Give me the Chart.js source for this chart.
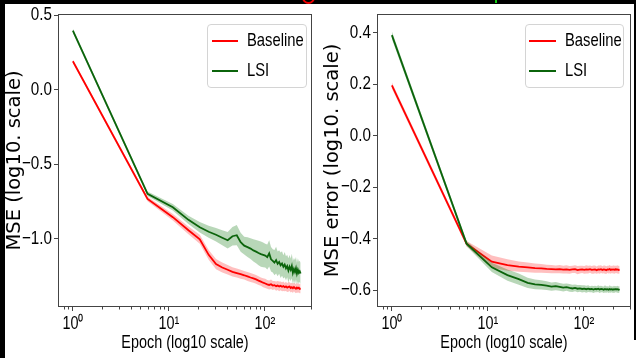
<!DOCTYPE html>
<html>
<head>
<meta charset="utf-8">
<script src="https://cdn.jsdelivr.net/npm/chart.js@4.4.1/dist/chart.umd.min.js"></script>
<style>
    html, body { margin: 0; padding: 0; background: #fff; }
    #page { position: relative; width: 636px; height: 358px; overflow: hidden; background: #fff; }
    .panel { position: absolute; top: 0; width: 318px; height: 358px; }
    .legend {
        position: absolute; box-sizing: border-box; background: rgba(255,255,255,0.85);
        border: 1px solid #d4d4d4; border-radius: 4px;
        font-family: 'Liberation Sans', sans-serif; font-size: 18.5px; color: #000;
    }
    .legend .swatch { position: absolute; height: 2px; }
    .legend .name { position: absolute; line-height: 18px; white-space: nowrap;
        transform: scaleX(0.8); transform-origin: left center; }
    .edge { position: absolute; background: #000; }
</style>
</head>
<body>
<div id="page">
    <div class="panel" style="left:0"><canvas id="lossChart" width="318" height="358"></canvas></div>
    <div class="panel" style="left:318px"><canvas id="errorChart" width="318" height="358"></canvas></div>
    <div class="legend" id="lossLegend" style="left:207px;top:24px;width:100px;height:64px"></div>
    <div class="legend" id="errorLegend" style="left:525px;top:24px;width:99px;height:64px"></div>
    <div class="edge" style="left:0;top:0;width:636px;height:4px"></div>
    <div class="edge" style="left:0;top:0;width:5px;height:358px"></div>
    <div class="edge" style="left:634px;top:0;width:2px;height:340px"></div>
    <div style="position:absolute;left:302px;top:-9px;width:9px;height:9px;border:2px solid #e00;border-radius:50%"></div>
    <div style="position:absolute;left:495px;top:0;width:2px;height:3px;background:#1c1"></div>
</div>
<script>
    // Data
    const epochs = [1, 6, 11, 16, 21, 26, 31, 36, 41, 46, 51, 56, 61, 66, 71, 76, 81, 86, 91, 96,
        101, 106, 111, 116, 121, 126, 131, 136, 141, 146, 151, 156, 161, 166, 171, 176, 181, 186, 191, 196,
        201, 206, 211, 216, 221, 226, 231, 236];

    const seriesLabels = ['Baseline', 'LSI'];

    // left panel: MSE
    const lossBaseline = [0.19, -0.735, -0.857, -0.945, -1.005, -1.11, -1.172, -1.195, -1.21, -1.224,
        -1.232, -1.24, -1.247, -1.255, -1.262, -1.268, -1.275, -1.283, -1.29, -1.297,
        -1.302, -1.308, -1.312, -1.307, -1.316, -1.313, -1.32, -1.316, -1.322, -1.318,
        -1.324, -1.32, -1.327, -1.322, -1.33, -1.325, -1.323, -1.332, -1.327, -1.334,
        -1.326, -1.332, -1.337, -1.329, -1.335, -1.331, -1.338, -1.335];
    const lossBaselineStd = [0.012, 0.015, 0.022, 0.026, 0.03, 0.033, 0.034, 0.033, 0.032, 0.031,
        0.03, 0.03, 0.029, 0.03, 0.031, 0.03, 0.029, 0.03, 0.028, 0.03,
        0.031, 0.029, 0.03, 0.032, 0.03, 0.028, 0.031, 0.03, 0.033, 0.029,
        0.03, 0.032, 0.028, 0.031, 0.03, 0.033, 0.029, 0.031, 0.03, 0.032,
        0.028, 0.031, 0.03, 0.033, 0.029, 0.031, 0.03, 0.032];
    const lossLsi = [0.395, -0.70, -0.79, -0.875, -0.925, -0.955, -0.975, -0.995, -1.012, -0.985,
        -0.978, -1.025, -1.048, -1.058, -1.068, -1.08, -1.088, -1.097, -1.105, -1.11,
        -1.115, -1.125, -1.1, -1.14, -1.15, -1.162, -1.145, -1.17, -1.158, -1.18,
        -1.168, -1.19, -1.175, -1.2, -1.185, -1.215, -1.19, -1.21, -1.185, -1.23,
        -1.205, -1.225, -1.2, -1.235, -1.21, -1.23, -1.22, -1.235];
    const lossLsiStd = [0.015, 0.015, 0.022, 0.028, 0.035, 0.04, 0.045, 0.05, 0.055, 0.062,
        0.068, 0.064, 0.06, 0.066, 0.07, 0.074, 0.078, 0.082, 0.085, 0.083,
        0.08, 0.084, 0.088, 0.082, 0.078, 0.085, 0.09, 0.083, 0.079, 0.086,
        0.082, 0.078, 0.085, 0.08, 0.076, 0.083, 0.079, 0.075, 0.082, 0.078,
        0.074, 0.08, 0.076, 0.072, 0.078, 0.074, 0.07, 0.072];

    // right panel: MSE error
    const errBaseline = [0.195, -0.42, -0.49, -0.503, -0.509, -0.512, -0.515, -0.516, -0.518, -0.519,
        -0.52, -0.519, -0.521, -0.52, -0.522, -0.52, -0.519, -0.523, -0.521, -0.52,
        -0.522, -0.52, -0.521, -0.519, -0.522, -0.521, -0.52, -0.523, -0.52, -0.521,
        -0.519, -0.522, -0.52, -0.521, -0.523, -0.52, -0.521, -0.519, -0.522, -0.52,
        -0.521, -0.52, -0.522, -0.519, -0.521, -0.52, -0.522, -0.521];
    const errBaselineStd = [0.012, 0.01, 0.024, 0.022, 0.02, 0.019, 0.018, 0.017, 0.016, 0.016,
        0.015, 0.016, 0.015, 0.016, 0.015, 0.014, 0.015, 0.016, 0.015, 0.014,
        0.015, 0.016, 0.015, 0.014, 0.015, 0.016, 0.015, 0.014, 0.015, 0.016,
        0.015, 0.014, 0.015, 0.016, 0.015, 0.014, 0.015, 0.016, 0.015, 0.014,
        0.015, 0.016, 0.015, 0.014, 0.015, 0.016, 0.015, 0.015];
    const errLsi = [0.39, -0.42, -0.512, -0.542, -0.558, -0.572, -0.578, -0.58, -0.583, -0.587,
        -0.585, -0.588, -0.591, -0.589, -0.592, -0.594, -0.592, -0.595, -0.594, -0.596,
        -0.595, -0.597, -0.595, -0.597, -0.596, -0.598, -0.596, -0.597, -0.595, -0.598,
        -0.596, -0.597, -0.599, -0.596, -0.598, -0.597, -0.599, -0.596, -0.598, -0.597,
        -0.599, -0.597, -0.598, -0.596, -0.598, -0.597, -0.599, -0.597];
    const errLsiStd = [0.015, 0.01, 0.018, 0.022, 0.022, 0.02, 0.019, 0.018, 0.017, 0.016,
        0.016, 0.015, 0.015, 0.014, 0.015, 0.014, 0.013, 0.014, 0.013, 0.014,
        0.013, 0.014, 0.013, 0.012, 0.013, 0.014, 0.013, 0.012, 0.013, 0.014,
        0.013, 0.012, 0.013, 0.014, 0.013, 0.012, 0.013, 0.014, 0.013, 0.012,
        0.013, 0.014, 0.013, 0.012, 0.013, 0.014, 0.013, 0.013];

    // Ticks
    const xMajorTicks = [1, 10, 100];
    const xTickLabels = ['10\u2070', '10\u00b9', '10\u00b2'];
    const xMinorTicks = [0.8, 0.9, 2, 3, 4, 5, 6, 7, 8, 9, 20, 30, 40, 50, 60, 70, 80, 90, 200, 300];
    const lossYTicks = [0.5, 0, -0.5, -1.0];
    const lossYLabels = ['0.5', '0.0', '\u22120.5', '\u22121.0'];
    const errYTicks = [0.4, 0.2, 0, -0.2, -0.4, -0.6];
    const errYLabels = ['0.4', '0.2', '0.0', '\u22120.2', '\u22120.4', '\u22120.6'];

    // Styles
    const SANS = "'Liberation Sans', sans-serif";
    const TEXT_SQUEEZE = 0.8;   // no narrow face installed, so squeeze horizontal text
    const AXIS = '#444';
    const colors = {
        Baseline: { line: '#ff0000', band: 'rgba(255, 0, 0, 0.25)' },
        LSI: { line: '#0b640b', band: 'rgba(0, 110, 0, 0.28)' }
    };

    function bandDatasets(label, mean, std, order) {
        const pts = arr => arr.map((v, i) => ({ x: epochs[i], y: v }));
        const c = colors[label];
        return [
            { label: label + ' upper', data: pts(mean.map((m, i) => m + std[i])), order: order + 1,
              borderColor: 'rgba(0,0,0,0)', borderWidth: 0, pointRadius: 0, backgroundColor: c.band, fill: '+1' },
            { label: label + ' lower', data: pts(mean.map((m, i) => m - std[i])), order: order + 1,
              borderColor: 'rgba(0,0,0,0)', borderWidth: 0, pointRadius: 0, fill: false },
            { label: label, data: pts(mean), order: order,
              borderColor: c.line, borderWidth: 1.8, pointRadius: 0, fill: false }
        ];
    }

    // narrow horizontal labels (rotated axis titles keep full width)
    const condensePlugin = {
        id: 'condense',
        beforeDraw(chart) {
            const ctx = chart.ctx;
            if (ctx._condensed) return;
            const fill = ctx.fillText.bind(ctx);
            ctx.fillText = function (text, x, y) {
                const t = ctx.getTransform();
                if (Math.abs(t.b) > 0.01) {
                    fill(text, x, y);
                    return;
                }
                ctx.save();
                ctx.translate(x, y);
                ctx.scale(TEXT_SQUEEZE, 1);
                fill(text, 0, 0);
                ctx.restore();
            };
            ctx._condensed = true;
        }
    };

    // frame + minor x ticks
    const framePlugin = {
        id: 'frame',
        afterDraw(chart) {
            const { ctx, chartArea: a, scales: { x } } = chart;
            ctx.save();
            ctx.strokeStyle = AXIS;
            ctx.lineWidth = 1;
            ctx.strokeRect(a.left + 0.5, a.top + 0.5, a.right - a.left - 1, a.bottom - a.top - 1);
            ctx.beginPath();
            xMinorTicks.forEach(v => {
                const px = Math.round(x.getPixelForValue(v)) + 0.5;
                ctx.moveTo(px, a.bottom);
                ctx.lineTo(px, a.bottom + 2.5);
            });
            ctx.stroke();
            ctx.restore();
        }
    };

    function makeChart(id, cfg) {
        return new Chart(document.getElementById(id), {
            type: 'line',
            data: {
                datasets: [
                    ...bandDatasets('Baseline', cfg.baseline, cfg.baselineStd, 3),
                    ...bandDatasets('LSI', cfg.lsi, cfg.lsiStd, 1)
                ]
            },
            options: {
                responsive: false,
                animation: false,
                devicePixelRatio: 1,
                layout: { padding: { left: 0, right: cfg.padRight, top: 14, bottom: 0 } },
                plugins: { legend: { display: false }, tooltip: { enabled: false } },
                scales: {
                    x: {
                        type: 'logarithmic',
                        min: 0.744,
                        max: 310,
                        afterBuildTicks: axis => { axis.ticks = xMajorTicks.map(v => ({ value: v })); },
                        afterFit: axis => { axis.height = 51; },
                        ticks: {
                            autoSkip: false, maxRotation: 0, padding: 2, color: '#000',
                            font: { family: SANS, size: 18 },
                            callback: (v, i) => xTickLabels[i]
                        },
                        grid: { drawOnChartArea: false, tickLength: 4, tickColor: AXIS },
                        border: { display: false },
                        title: {
                            display: true, text: 'Epoch (log10 scale)', color: '#000',
                            font: { family: SANS, size: 18 }, padding: { top: 0, bottom: 4 }
                        }
                    },
                    y: {
                        min: cfg.yMin,
                        max: cfg.yMax,
                        afterBuildTicks: axis => { axis.ticks = cfg.yTicks.map(v => ({ value: v })); },
                        afterFit: axis => { axis.width = cfg.yWidth; },
                        ticks: {
                            padding: 2, color: '#000',
                            font: { family: SANS, size: 19 },
                            callback: (v, i) => cfg.yLabels[i]
                        },
                        grid: { drawOnChartArea: false, tickLength: 4, tickColor: AXIS },
                        border: { display: false },
                        title: {
                            display: true, text: cfg.yTitle, color: '#000',
                            font: { family: 'DejaVu Sans', size: 19.5 }, padding: { top: 3, bottom: 0 }
                        }
                    }
                }
            },
            plugins: [condensePlugin, framePlugin]
        });
    }

    makeChart('lossChart', {
        baseline: lossBaseline, baselineStd: lossBaselineStd, lsi: lossLsi, lsiStd: lossLsiStd,
        yMin: -1.46, yMax: 0.507, yTicks: lossYTicks, yLabels: lossYLabels,
        yTitle: 'MSE (log10. scale)', yWidth: 58, padRight: 6
    });

    makeChart('errorChart', {
        baseline: errBaseline, baselineStd: errBaselineStd, lsi: errLsi, lsiStd: errLsiStd,
        yMin: -0.666, yMax: 0.472, yTicks: errYTicks, yLabels: errYLabels,
        yTitle: 'MSE error (log10. scale)', yWidth: 59, padRight: 5
    });

    // Legends
    function buildLegend(id, lineLeft, lineWidth) {
        const box = document.getElementById(id);
        seriesLabels.forEach((name, i) => {
            const y = 16 + i * 30;
            const sw = document.createElement('div');
            sw.className = 'swatch';
            sw.style.cssText = `left:${lineLeft}px;top:${y - 1}px;width:${lineWidth}px;background:${colors[name].line}`;
            const tx = document.createElement('div');
            tx.className = 'name';
            tx.style.cssText = `left:39px;top:${y - 10}px`;
            tx.textContent = name;
            box.appendChild(sw);
            box.appendChild(tx);
        });
    }
    buildLegend('lossLegend', 4, 26);
    buildLegend('errorLegend', 3, 27);
</script>
</body>
</html>
